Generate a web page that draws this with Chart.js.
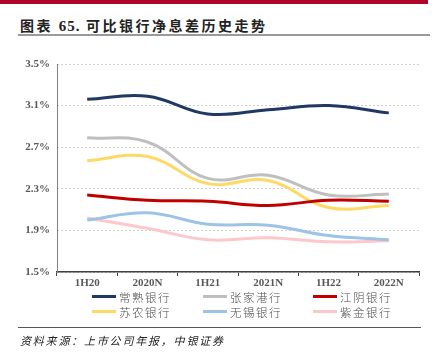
<!DOCTYPE html>
<html><head><meta charset="utf-8">
<script src="https://cdn.jsdelivr.net/npm/chart.js"></script>
<style>
html,body{margin:0;padding:0;background:#fff;width:445px;height:355px;overflow:hidden;position:relative;font-family:"Noto Sans CJK SC",sans-serif;}
#topbar{position:absolute;left:0;top:0;width:428px;height:4px;background:#b0062c;}
#title{position:absolute;left:20px;top:15px;font-size:14px;font-weight:bold;color:#222;letter-spacing:2.5px;white-space:nowrap;}
#title .n{font-family:"Liberation Serif",serif;font-size:15px;letter-spacing:1px;}
#rule1{position:absolute;left:18px;top:34px;width:412px;height:2px;background:#9a9a9a;}
#wrap{position:absolute;left:0;top:50px;width:445px;height:240px;}
.lg{position:absolute;height:14px;font-size:11.5px;color:#4a4a4a;font-weight:300;white-space:nowrap;letter-spacing:1.5px;line-height:14px;}
.lg i{position:absolute;left:0;top:5px;width:24px;height:3px;}
.lg span{position:absolute;left:27px;top:0;}
#rule2{position:absolute;left:18px;top:327px;width:403px;height:1px;background:#555;}
#src{position:absolute;left:20px;top:332px;font-size:11px;font-style:italic;color:#222;letter-spacing:1.8px;white-space:nowrap;}
</style></head><body>
<div id="topbar"></div>
<div id="title">图表 <span class="n">65.</span> 可比银行净息差历史走势</div>
<div id="rule1"></div>
<div id="wrap"><canvas id="c"></canvas></div>
<div id="legend"></div>
<div id="rule2"></div>
<div id="src">资料来源：上市公司年报，中银证券</div>
<script>
const categories = ["1H20","2020N","1H21","2021N","1H22","2022N"];
const seriesNames = ["常熟银行","张家港行","江阴银行","苏农银行","无锡银行","紫金银行"];
const changshu   = [3.16, 3.19, 3.02, 3.06, 3.10, 3.03];
const zhangjiagang = [2.79, 2.75, 2.40, 2.43, 2.24, 2.25];
const jiangyin   = [2.24, 2.19, 2.18, 2.14, 2.19, 2.18];
const sunong     = [2.57, 2.61, 2.35, 2.38, 2.12, 2.14];
const wuxi       = [2.00, 2.07, 1.96, 1.95, 1.85, 1.81];
const zijin      = [2.02, 1.92, 1.81, 1.83, 1.79, 1.80];
const yTicks = [1.5, 1.9, 2.3, 2.7, 3.1, 3.5];
const colors = ["#1f3864","#bfbfbf","#c00000","#ffd966","#9dc3e6","#fcc8cc"];
const seriesData = [changshu, zhangjiagang, jiangyin, sunong, wuxi, zijin];

const datasets = seriesNames.map((n,i)=>({
  label:n, data:seriesData[i], borderColor:colors[i], backgroundColor:colors[i],
  borderWidth:3, pointRadius:0, tension:0.4, fill:false
}));
const tickFont = {family:"Liberation Serif", size:11, weight:"bold"};
new Chart(document.getElementById('c'), {
  type:'line',
  data:{labels:categories, datasets:datasets},
  options:{
    responsive:true, maintainAspectRatio:false, animation:false,
    layout:{padding:{top:14,right:26,left:0,bottom:0}},
    plugins:{legend:{display:false}, tooltip:{enabled:false}},
    scales:{
      x:{
        offset:true,
        grid:{display:true, offset:true, drawOnChartArea:false, drawTicks:true, tickLength:4, color:"#404040", lineWidth:1},
        border:{display:true, color:"#404040", width:1.5},
        ticks:{font:tickFont, color:"#595959", padding:1, maxRotation:0, autoSkip:false},
        afterFit:(s)=>{s.height=18;}
      },
      y:{
        min:1.5, max:3.5,
        afterBuildTicks:(s)=>{s.ticks = yTicks.map(v=>({value:v}));},
        grid:{color:"#cfcfcf", lineWidth:1, drawTicks:false},
        border:{display:false, dash:[2,2]},
        ticks:{font:tickFont, color:"#595959", padding:7, callback:(v)=>v.toFixed(1)+"%"},
        afterFit:(s)=>{s.width=57;}
      }
    }
  },
  plugins:[{
    id:'solidYAxis',
    afterDraw(chart){
      const {ctx, chartArea} = chart;
      ctx.save();
      ctx.strokeStyle="#808080"; ctx.lineWidth=1; ctx.setLineDash([]);
      ctx.beginPath(); ctx.moveTo(chartArea.left+0.5, chartArea.top); ctx.lineTo(chartArea.left+0.5, chartArea.bottom); ctx.stroke();
      ctx.restore();
    }
  }]
});
const leg = document.getElementById('legend');
const colX = [92, 203, 313];
const rowY = [290, 305];
seriesNames.forEach((n,i)=>{
  const d = document.createElement('div');
  d.className='lg';
  d.style.left = colX[i%3]+'px';
  d.style.top = rowY[Math.floor(i/3)]+'px';
  d.innerHTML = '<i style="background:'+colors[i]+'"></i><span>'+n+'</span>';
  leg.appendChild(d);
});
</script>
</body></html>
